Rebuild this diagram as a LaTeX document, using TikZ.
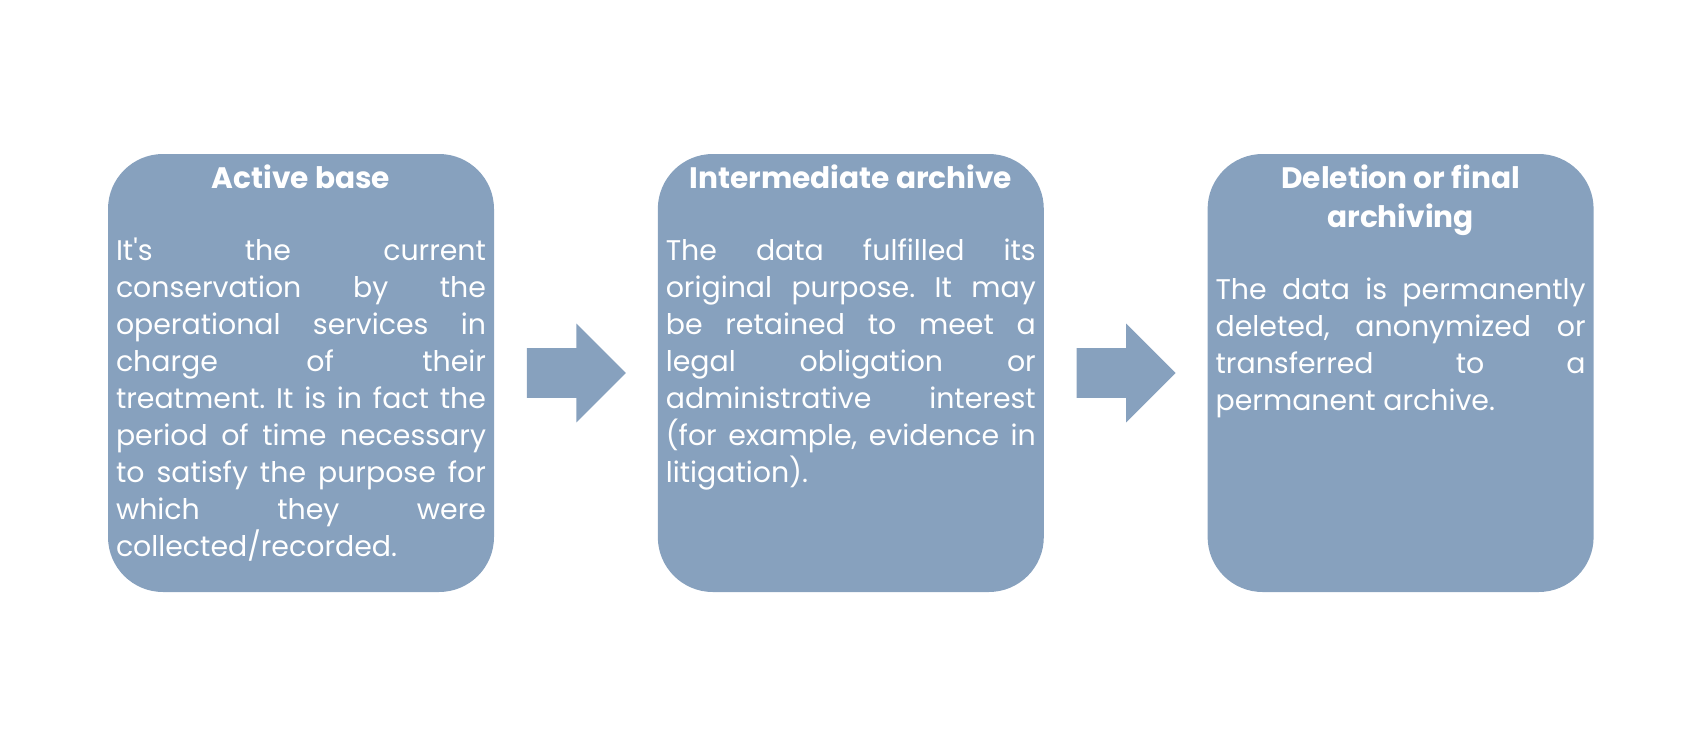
\documentclass[tikz,border=0pt]{standalone}
\usepackage{fontspec}
\setmainfont{Poppins}
\usetikzlibrary{positioning,shapes.arrows}
\definecolor{stageblue}{RGB}{135,161,190}
\frenchspacing

\tikzset{
  stage/.style={rectangle, rounded corners=27.5pt, fill=stageblue,
    minimum width=193pt, minimum height=219pt, inner sep=0pt},
  stagetitle/.style={text=white, font=\bfseries\fontsize{14.8pt}{19.5pt}\selectfont,
    align=center, inner sep=0pt, anchor=north},
  stagetext/.style={text=white, font=\fontsize{14.2pt}{18.5pt}\selectfont,
    text width=185pt, align=justify, inner sep=0pt},
  flow/.style={single arrow, fill=stageblue, minimum height=49.5pt,
    inner xsep=0pt, inner ysep=12.25pt, single arrow head extend=12.25pt,
    single arrow tip angle=90}
}

\begin{document}
\begin{tikzpicture}

	\useasboundingbox (0,0) rectangle (850pt,370.5pt);

	\node[stage] (active) at (150.5pt,184pt) {};
	\node[stage, right=81.5pt of active] (inter) {};
	\node[stage, right=81.5pt of inter] (final) {};

	\node[flow, right=16pt of active] (a1) {};
	\node[flow, right=16pt of inter] (a2) {};

	\node[stagetitle] (tactive) at ([yshift=-3.35pt]active.north) {\strut Active base};
	\node[stagetitle] (tinter) at ([yshift=-3.35pt]inter.north) {\strut Intermediate archive};
	\node[stagetitle] (tfinal) at ([yshift=-3.35pt]final.north) {\strut Deletion or final\\\strut archiving};

	\node[stagetext, below=17.2pt of tactive] (dactive) {\strut It\textquotesingle s the current\linebreak
		conservation by the\linebreak operational services in\linebreak charge of their\linebreak
		treatment. It is in fact the\linebreak period of time necessary\linebreak
		to satisfy the purpose for\linebreak which they were\linebreak collected/recorded.};
	\node[stagetext, below=17.2pt of tinter] (dinter) {\strut The data fulfilled its\linebreak
		original purpose. It may\linebreak be retained to meet a\linebreak legal obligation or\linebreak
		administrative interest\linebreak (for example, evidence in\linebreak litigation).};
	\node[stagetext, below=17.2pt of tfinal] (dfinal) {\strut The data is permanently\linebreak
		deleted, anonymized or\linebreak transferred to a\linebreak permanent archive.};

\end{tikzpicture}
\end{document}
